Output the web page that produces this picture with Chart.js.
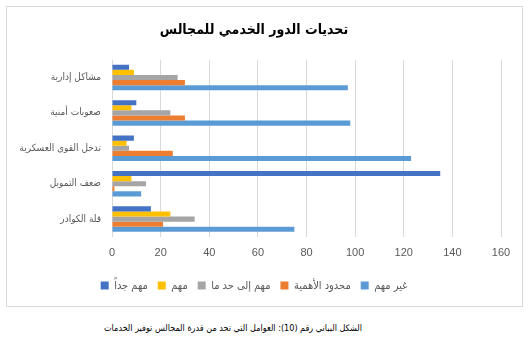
<!DOCTYPE html>
<html lang="ar">
<head>
<meta charset="utf-8">
<script src="https://cdn.jsdelivr.net/npm/chart.js@4"></script>
<style>
    body { margin: 0; background: #fff; width: 532px; height: 346px; position: relative; overflow: hidden; }
    #frame { position: absolute; left: 6px; top: 6px; width: 515px; height: 299px; border: 1px solid #d9d9d9; }
    #frame canvas { display: block; }
    #caption {
        position: absolute; left: 0; top: 323px; width: 466px;
        text-align: center; direction: rtl;
        font: 9px "DejaVu Sans Condensed", "DejaVu Sans", sans-serif; color: #000;
    }
</style>
</head>
<body>
<div id="frame"><canvas id="challengesChart" width="515" height="299"></canvas></div>
<div id="caption">الشكل البياني رقم (10): العوامل التي تحد من قدرة المجالس توفير الخدمات</div>

<script>
// التحديات (من الأعلى إلى الأسفل)
const categories = ['مشاكل إدارية', 'صعوبات أمنية', 'تدخل القوى العسكرية', 'ضعف التمويل', 'قلة الكوادر'];

// عدد الإجابات لكل درجة أهمية
const veryImportant = [7, 10, 9, 135, 16];
const important = [9, 8, 6, 8, 24];
const somewhatImportant = [27, 24, 7, 14, 34];
const limitedImportance = [30, 30, 25, 1, 21];
const notImportant = [97, 98, 123, 12, 75];

const seriesNames = ['مهم جداً', 'مهم', 'مهم إلى حد ما', 'محدود الأهمية', 'غير مهم'];
const xTicks = [0, 20, 40, 60, 80, 100, 120, 140, 160];

const colors = ['#4472C4', '#FFC000', '#A5A5A5', '#ED7D31', '#5B9BD5'];
const values = [veryImportant, important, somewhatImportant, limitedImportance, notImportant];

const latinFont = '"Liberation Sans", "DejaVu Sans Condensed", sans-serif';
const arabicFont = '"DejaVu Sans Condensed", "DejaVu Sans", sans-serif';

document.addEventListener('DOMContentLoaded', function() {
    const ctx = document.getElementById('challengesChart').getContext('2d');
    new Chart(ctx, {
        type: 'bar',
        data: {
            labels: categories,
            datasets: values.map(function(data, i) {
                return {
                    label: seriesNames[i],
                    data: data,
                    backgroundColor: colors[i],
                    borderWidth: 0,
                    categoryPercentage: 0.72,
                    barPercentage: 1
                };
            })
        },
        options: {
            indexAxis: 'y',
            responsive: false,
            animation: false,
            layout: {
                padding: { left: 0, right: 21, top: 0, bottom: 5 }
            },
            plugins: {
                title: {
                    display: true,
                    text: 'تحديات الدور الخدمي للمجالس',
                    color: '#000',
                    font: { family: arabicFont, size: 14, weight: 'bold' },
                    padding: { top: 15, bottom: 21 }
                },
                legend: {
                    position: 'bottom',
                    labels: {
                        color: '#595959',
                        boxWidth: 8,
                        boxHeight: 8,
                        padding: 10,
                        font: { family: latinFont, size: 11 }
                    }
                },
                tooltip: { enabled: false }
            },
            scales: {
                x: {
                    min: 0,
                    max: 160,
                    afterBuildTicks: function(scale) {
                        scale.ticks = xTicks.map(function(v) { return { value: v }; });
                    },
                    grid: { color: '#d9d9d9', drawTicks: false },
                    border: { display: false },
                    ticks: {
                        color: '#595959',
                        padding: 10,
                        font: { family: latinFont, size: 11 }
                    }
                },
                y: {
                    afterFit: function(scale) { scale.width = 105; },
                    grid: { display: false, drawTicks: false },
                    border: { display: false },
                    ticks: {
                        color: '#595959',
                        padding: 11,
                        font: { family: arabicFont, size: 10 }
                    }
                }
            }
        }
    });
});
</script>
</body>
</html>
